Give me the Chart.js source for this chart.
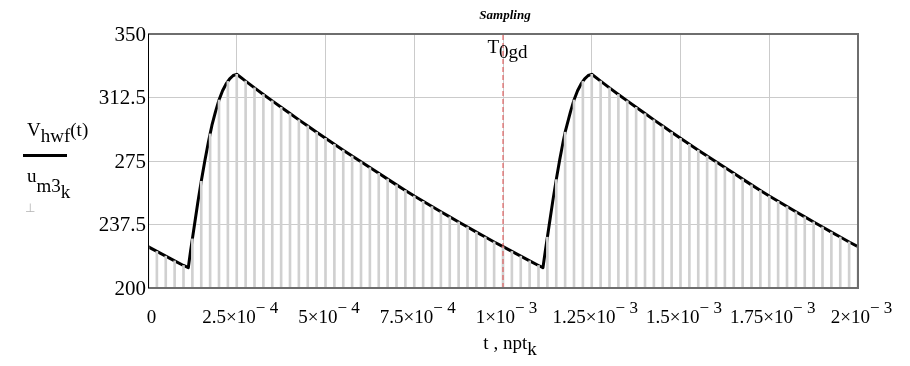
<!DOCTYPE html>
<html>
<head>
<meta charset="utf-8">
<script src="https://cdn.jsdelivr.net/npm/chart.js@4"></script>
<style>
  html, body { margin: 0; padding: 0; background: #fff; }
</style>
</head>
<body>
<canvas id="myChart" width="910" height="366"></canvas>
<script>
// sampled points u_m3[k] at npt[k] = k * sampleStep
var sampleStep = 2.5e-5;
var sampleValues = [
    224.4, 221.6, 218.8, 216.0, 213.3, 229, 263, 291, 311, 322,
    326.2, 322.2, 318.2, 314.3, 310.5, 306.7, 303.0, 299.3, 295.7, 292.0,
    288.4, 284.9, 281.4, 277.9, 274.5, 271.1, 267.7, 264.3, 260.9, 257.6,
    254.3, 251.2, 248.1, 245.0, 242.0, 239.0, 236.0, 233.0, 230.1, 227.2,
    224.4, 221.6, 218.8, 216.0, 213.3, 230, 264, 292, 311, 322,
    326.2, 322.2, 318.2, 314.3, 310.5, 306.7, 303.0, 299.3, 295.7, 292.0,
    288.4, 284.9, 281.4, 277.9, 274.5, 271.1, 267.7, 264.3, 260.9, 257.6,
    254.3, 251.2, 248.1, 245.0, 242.0, 239.0, 236.0, 233.0, 230.1, 227.2,
    224.4
];
// extra points of V_hwf(t) on the rising edges (between samples)
var edgeTimes = [
    1.135e-4, 1.2e-4, 1.3e-4, 1.4e-4, 1.6e-4, 1.7e-4, 1.8e-4, 1.9e-4, 2.1e-4, 2.2e-4, 2.3e-4, 2.4e-4,
    1.1125e-3, 1.12e-3, 1.13e-3, 1.14e-3, 1.16e-3, 1.17e-3, 1.18e-3, 1.19e-3, 1.21e-3, 1.22e-3, 1.23e-3, 1.24e-3
];
var edgeValues = [
    212.0, 222, 236, 250, 275, 286, 296, 304, 316.5, 320.5, 323.5, 325.5,
    212.0, 223, 237, 251, 276, 287, 296, 304, 316.5, 320.5, 323.5, 325.5
];
var markerTime = 1e-3;
var xTickValues = [0, 2.5e-4, 5e-4, 7.5e-4, 1e-3, 1.25e-3, 1.5e-3, 1.75e-3, 2e-3];
var xTickLabels = ['0', '2.5×10^\u2212 4', '5×10^\u2212 4', '7.5×10^\u2212 4', '1×10^\u2212 3',
                   '1.25×10^\u2212 3', '1.5×10^\u2212 3', '1.75×10^\u2212 3', '2×10^\u2212 3'];
var yTickValues = [200, 237.5, 275, 312.5, 350];
var yTickLabels = ['200', '237.5', '275', '312.5', '350'];

var SERIF = 'Liberation Serif';

var stems = sampleValues.map(function (v, k) { return { x: k * sampleStep, y: v }; });
var curve = stems.concat(edgeTimes.map(function (t, i) { return { x: t, y: edgeValues[i] }; }));
curve.sort(function (a, b) { return a.x - b.x; });

// draw text made of runs [text, dy, font]
function drawRuns(ctx, runs, x, y) {
    runs.forEach(function (r) {
        ctx.font = r[2];
        ctx.fillText(r[0], x, y + r[1]);
        x += ctx.measureText(r[0]).width;
    });
}
function runsWidth(ctx, runs) {
    var w = 0;
    runs.forEach(function (r) { ctx.font = r[2]; w += ctx.measureText(r[0]).width; });
    return w;
}

var textPlugin = {
    id: 'mathcadText',
    afterDatasetsDraw: function (chart) {
        var ctx = chart.ctx, a = chart.chartArea;
        ctx.save();
        // frame
        ctx.strokeStyle = '#6e6e6e';
        ctx.lineWidth = 2;
        ctx.beginPath();
        ctx.moveTo(a.left, a.top); ctx.lineTo(a.right, a.top);
        ctx.lineTo(a.right, a.bottom); ctx.lineTo(a.left, a.bottom);
        ctx.stroke();
        ctx.strokeStyle = '#000';
        ctx.lineWidth = 1;
        ctx.beginPath();
        ctx.moveTo(a.left + 0.5, a.top); ctx.lineTo(a.left + 0.5, a.bottom);
        ctx.stroke();
        ctx.restore();
    },
    afterDraw: function (chart) {
        var ctx = chart.ctx, a = chart.chartArea;
        var xs = chart.scales.x, ys = chart.scales.y;
        var base = '19px "' + SERIF + '"';
        var small = '17px "' + SERIF + '"';
        ctx.save();
        ctx.fillStyle = '#000';
        ctx.textBaseline = 'alphabetic';

        // title
        ctx.font = 'bold italic 13px "' + SERIF + '"';
        ctx.textAlign = 'center';
        ctx.fillText('Sampling', (a.left + a.right) / 2 + 2, 19);

        // y tick labels
        ctx.font = '21px "' + SERIF + '"';
        ctx.textAlign = 'right';
        ctx.textBaseline = 'middle';
        yTickValues.forEach(function (v, i) {
            ctx.fillText(yTickLabels[i], a.left - 2, ys.getPixelForValue(v) + 1);
        });

        // x tick labels with exponents
        ctx.textAlign = 'left';
        ctx.textBaseline = 'alphabetic';
        xTickValues.forEach(function (v, i) {
            var parts = xTickLabels[i].split('^');
            var runs = [[parts[0], 0, base]];
            if (parts[1]) runs.push([parts[1], -10, small]);
            var w = runsWidth(ctx, runs);
            drawRuns(ctx, runs, xs.getPixelForValue(v) - w / 2 + 3.5, 323);
        });

        // x axis title
        var xt = [['t , npt', 0, base], ['k', 6, base]];
        drawRuns(ctx, xt, (a.left + a.right) / 2 + 7 - runsWidth(ctx, xt) / 2, 349);

        // y axis title
        drawRuns(ctx, [['V', 0, base], ['hwf', 6, base], ['(t)', 0, base]], 27, 136);
        ctx.fillRect(23, 154, 44, 3);
        drawRuns(ctx, [['u', 0, base], ['m3', 10, base], ['k', 16, base]], 27, 182);
        ctx.fillStyle = '#b4b4b4';
        ctx.font = '12px "' + SERIF + '"';
        ctx.fillText('\u22A5', 25, 212);

        // marker label
        ctx.fillStyle = '#000';
        var mx = xs.getPixelForValue(markerTime);
        drawRuns(ctx, [['T', 0, base], ['0gd', 5, base]], mx - 15.5, 53);
        ctx.restore();
    }
};

var ctx = document.getElementById('myChart').getContext('2d');
var myChart = new Chart(ctx, {
    type: 'line',
    data: {
        datasets: [{
            type: 'line',
            label: 'V_hwf(t)',
            data: curve,
            borderColor: '#000',
            borderWidth: 3,
            borderJoinStyle: 'round',
            pointRadius: 0,
            tension: 0,
            order: 3
        }, {
            type: 'bar',
            label: 'u_m3_k',
            data: stems,
            base: 200,
            backgroundColor: '#d0d0d0',
            barThickness: 2,
            order: 2
        }, {
            type: 'line',
            label: 'T_0gd',
            data: [{ x: markerTime, y: 200 }, { x: markerTime, y: 350 }],
            borderColor: '#e04848',
            borderWidth: 1,
            borderDash: [5, 3],
            pointRadius: 0,
            order: 1
        }]
    },
    options: {
        responsive: false,
        animation: false,
        layout: { padding: { left: 148, right: 52, top: 34, bottom: 78 } },
        plugins: {
            legend: { display: false },
            tooltip: { enabled: false }
        },
        scales: {
            x: {
                type: 'linear',
                offset: false,
                min: 0,
                max: 2e-3,
                afterBuildTicks: function (axis) {
                    axis.ticks = xTickValues.map(function (v) { return { value: v }; });
                },
                ticks: { display: false },
                grid: { color: '#cbcbcb', lineWidth: 1, drawTicks: false, offset: false },
                border: { display: false }
            },
            y: {
                min: 200,
                max: 350,
                afterBuildTicks: function (axis) {
                    axis.ticks = yTickValues.map(function (v) { return { value: v }; });
                },
                ticks: { display: false },
                grid: { color: '#cbcbcb', lineWidth: 1, drawTicks: false },
                border: { display: false }
            }
        }
    },
    plugins: [textPlugin]
});
</script>
</body>
</html>
